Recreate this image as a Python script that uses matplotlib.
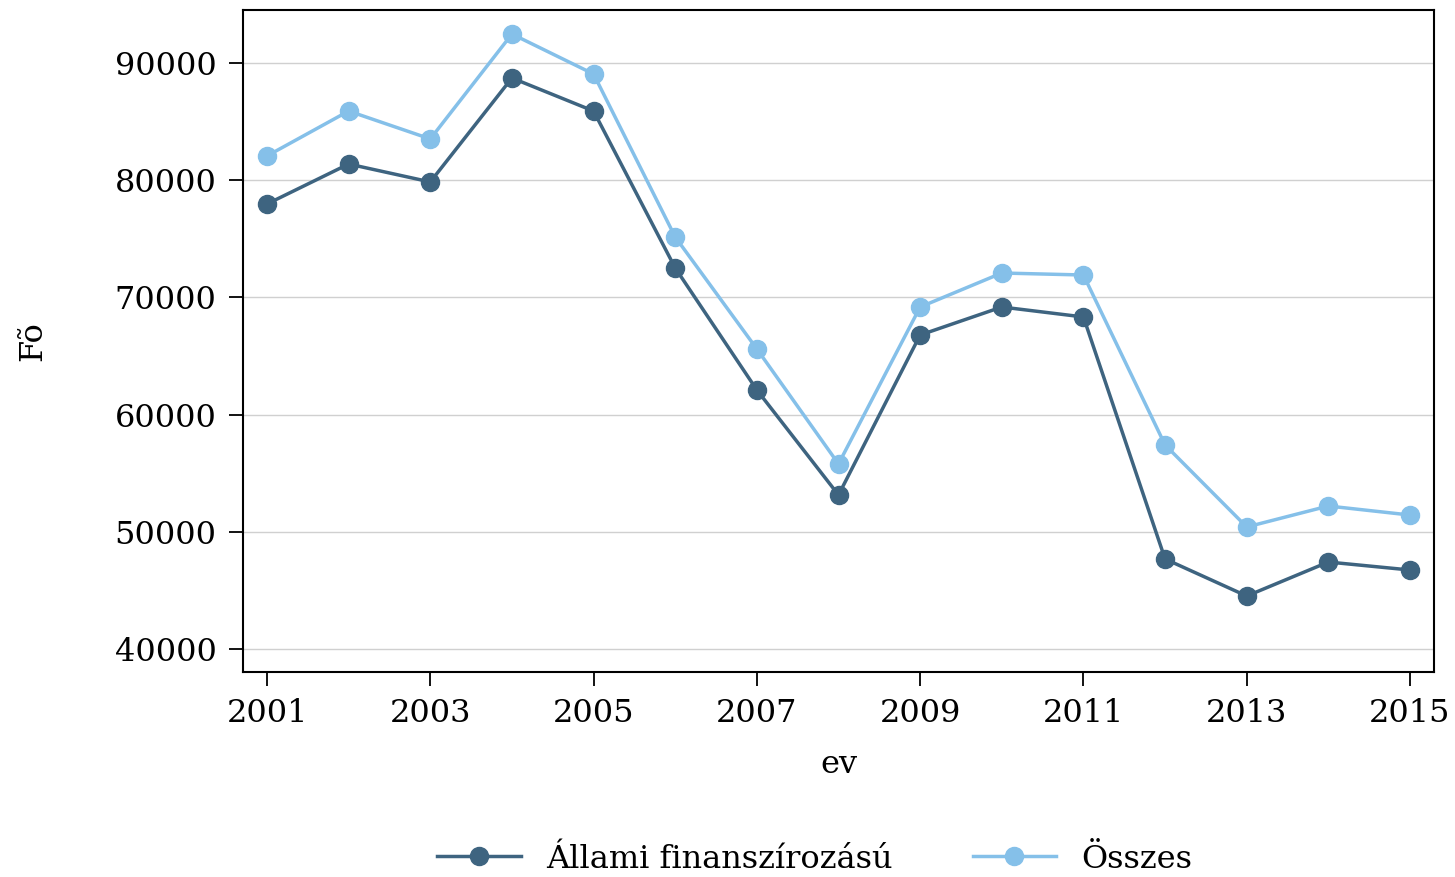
import matplotlib
matplotlib.use("Agg")
import matplotlib.pyplot as plt

years = list(range(2001, 2016))
allami = [77970, 81380, 79850, 88720, 85900, 72510, 62100, 53140, 66790, 69180, 68330, 47680, 44520, 47420, 46740]
osszes = [82070, 85900, 83520, 92470, 89060, 75150, 65600, 55790, 69180, 72080, 71910, 57410, 50410, 52200, 51430]
series_names = ["Állami finanszírozású", "Összes"]
colors = ["#3e6480", "#85c0e9"]
xticks = list(range(2001, 2016, 2))
yticks = [40000, 50000, 60000, 70000, 80000, 90000]

plt.rcParams['font.family'] = ['DejaVu Serif']
fig = plt.figure(figsize=(14.55, 8.77), dpi=100)
ax = fig.add_axes([243/1455, 1-672/877, (1434-243)/1455, (672-10)/877])

for vals, name, c in zip([allami, osszes], series_names, colors):
    ax.plot(years, vals, color=c, lw=2.5, marker='o', ms=13, label=name, zorder=3)

ax.set_xlim(2000.706, 2015.294)
ax.set_ylim(38037, 94522)
ax.set_xticks(xticks)
ax.set_yticks(yticks)
ax.grid(axis='y', color='#d0d0d0', lw=1.0, zorder=0)
ax.tick_params(axis='both', direction='out', length=10, width=1.3, labelsize=23, pad=9)
for s in ax.spines.values():
    s.set_linewidth(1.5)
ax.set_xlabel("ev", fontsize=23, labelpad=14)
ax.set_ylabel("Fõ", fontsize=23, labelpad=48)

fig.legend(loc='lower center', bbox_to_anchor=(0.56, -0.03), ncol=2, frameon=False,
           fontsize=23, handlelength=2.6, columnspacing=2.5, handletextpad=0.8)
fig.savefig("out.png", dpi=100)
